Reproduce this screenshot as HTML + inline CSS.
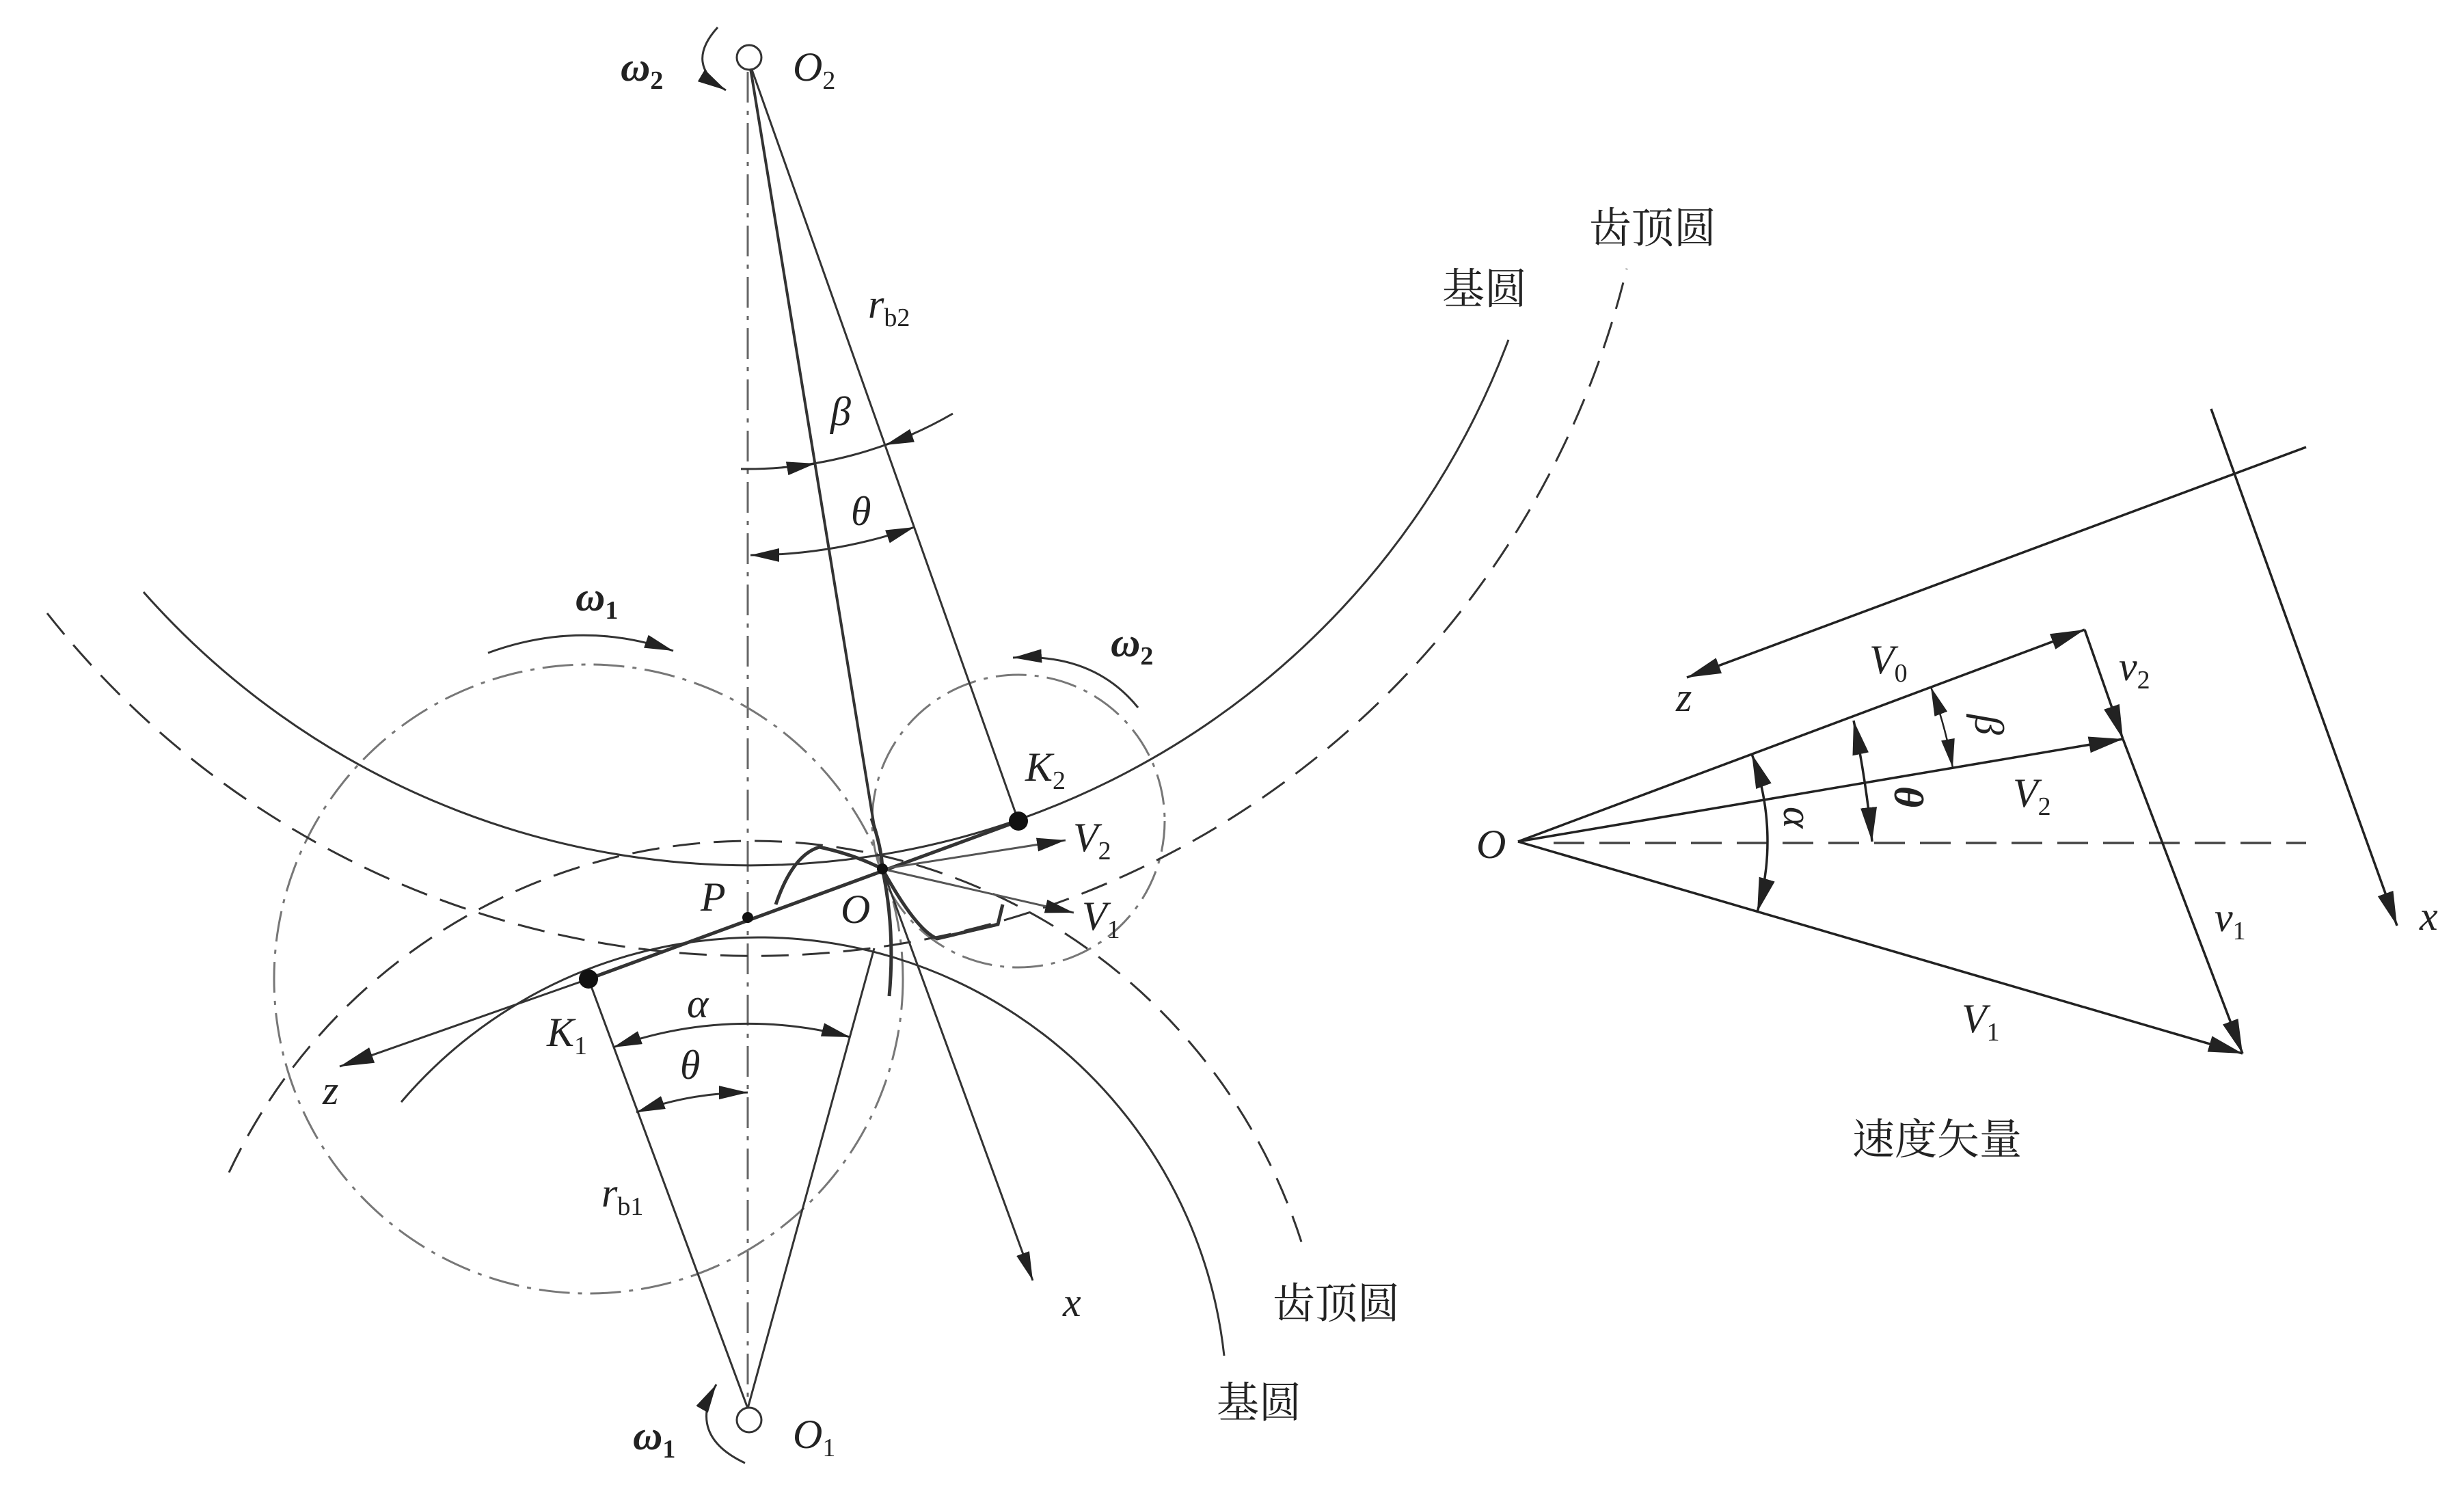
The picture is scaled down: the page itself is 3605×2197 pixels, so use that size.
<!DOCTYPE html>
<html><head><meta charset="utf-8"><style>
html,body{margin:0;padding:0;background:#fff;}
svg{display:block;}
.v{font-family:"Liberation Serif",serif;font-style:italic;font-size:60px;fill:#222;}
.s{font-size:38px;font-style:normal;}
.cn{font-family:"Liberation Serif","Noto Serif CJK SC",serif;font-size:62px;fill:#222;}
</style></head><body>
<svg width="3605" height="2197" viewBox="0 0 3605 2197" xmlns="http://www.w3.org/2000/svg">
<defs>
<marker id="a" markerUnits="userSpaceOnUse" markerWidth="50" markerHeight="30" refX="42" refY="10" orient="auto-start-reverse"><path d="M0,0 L42,10 L0,20 z" fill="#222"/></marker>
<marker id="b" markerUnits="userSpaceOnUse" markerWidth="60" markerHeight="30" refX="50" refY="12" orient="auto-start-reverse"><path d="M0,0 L50,12 L0,24 z" fill="#222"/></marker>
</defs>
<g fill="none" stroke="#333" stroke-width="3">
<line x1="1094" y1="105" x2="1094" y2="2055" stroke="#666" stroke-dasharray="45 12 6 12"/>
<circle cx="861" cy="1432" r="460" stroke="#777" stroke-dasharray="45 12 6 12"/>
<circle cx="1490" cy="1201" r="214" stroke="#777" stroke-dasharray="45 12 6 12"/>
<path d="M210,866 A1185,1185 0 0 0 2207,497"/>
<path d="M69,897 A1315,1315 0 0 0 2380,393" stroke-dasharray="40 20"/>
<path d="M587,1612 A686,686 0 0 1 1791,1983"/>
<path d="M335,1715 A845,845 0 0 1 1907,1826" stroke-dasharray="40 20"/>
<line x1="1099" y1="99" x2="1490" y2="1201"/>
<line x1="1098" y1="100" x2="1280" y2="1215" stroke-width="4"/>
<line x1="1094" y1="2060" x2="861" y2="1432"/>
<line x1="1094" y1="2060" x2="1279" y2="1387"/>
<line x1="861" y1="1432" x2="1490" y2="1201" stroke-width="5"/>
<line x1="861" y1="1432" x2="497" y2="1560" marker-end="url(#b)"/>
<line x1="1291" y1="1271" x2="1559" y2="1229" marker-end="url(#a)" stroke="#555"/>
<line x1="1291" y1="1271" x2="1571" y2="1335" marker-end="url(#a)" stroke="#555"/>
<line x1="1291" y1="1271" x2="1511" y2="1873" marker-end="url(#a)"/>
<path d="M1135,1323 Q1160,1250 1199,1239 Q1250,1250 1291,1271" stroke-width="5"/>
<path d="M1275,1197 Q1290,1240 1291,1271 Q1310,1360 1301,1457" stroke-width="5"/>
<path d="M1291,1271 Q1340,1360 1371,1373 L1460,1352 L1467,1323" stroke-width="5"/>
<path d="M1084,686 A602,602 0 0 0 1394,605"/>
<line x1="1153" y1="685" x2="1193" y2="678" marker-end="url(#a)"/>
<line x1="1335" y1="637" x2="1295" y2="651" marker-end="url(#a)"/>
<path d="M1098,812 A729,729 0 0 0 1338,771" marker-start="url(#a)" marker-end="url(#a)"/>
<path d="M897,1532 A580,580 0 0 1 1244,1517" marker-start="url(#a)" marker-end="url(#a)"/>
<path d="M931,1627 A479,479 0 0 1 1094,1598" marker-start="url(#a)" marker-end="url(#a)"/>
<path d="M1050,40 Q1000,95 1062,132" marker-end="url(#a)"/>
<path d="M1090,2140 Q1005,2100 1048,2025" marker-end="url(#a)"/>
<path d="M714,955 Q850,905 985,952" marker-end="url(#a)"/>
<path d="M1665,1035 Q1600,955 1482,962" marker-end="url(#a)"/>
</g>
<g fill="#fff" stroke="#333" stroke-width="3">
<circle cx="1096" cy="84" r="18"/>
<circle cx="1096" cy="2077" r="18"/>
</g>
<g fill="#111">
<circle cx="1490" cy="1201" r="14"/>
<circle cx="861" cy="1432" r="14"/>
<circle cx="1094" cy="1342" r="8"/>
<circle cx="1291" cy="1271" r="8"/>
</g>
<text class="v" x="908" y="118" font-weight="bold">ω<tspan class="s" dy="12">2</tspan></text>
<text class="v" x="1160" y="118">O<tspan class="s" dy="12">2</tspan></text>
<text class="v" x="926" y="2120" font-weight="bold">ω<tspan class="s" dy="12">1</tspan></text>
<text class="v" x="1160" y="2118">O<tspan class="s" dy="12">1</tspan></text>
<text class="v" x="842" y="893" font-weight="bold">ω<tspan class="s" dy="12">1</tspan></text>
<text class="v" x="1625" y="960" font-weight="bold">ω<tspan class="s" dy="12">2</tspan></text>
<text class="v" x="1270" y="465">r<tspan class="s" dy="12">b2</tspan></text>
<text class="v" x="880" y="1765">r<tspan class="s" dy="12">b1</tspan></text>
<text class="v" x="1215" y="622">β</text>
<text class="v" x="1245" y="768">θ</text>
<text class="v" x="1005" y="1488">α</text>
<text class="v" x="995" y="1578">θ</text>
<text class="v" x="1500" y="1142">K<tspan class="s" dy="12">2</tspan></text>
<text class="v" x="800" y="1530">K<tspan class="s" dy="12">1</tspan></text>
<text class="v" x="1025" y="1332">P</text>
<text class="v" x="1230" y="1350">O</text>
<text class="v" x="1570" y="1245">V<tspan class="s" dy="12">2</tspan></text>
<text class="v" x="1583" y="1360">V<tspan class="s" dy="12">1</tspan></text>
<text class="v" x="472" y="1615" font-size="46">z</text>
<text class="v" x="1555" y="1925" font-size="46">x</text>
<text class="cn" x="2110" y="444">基圆</text>
<text class="cn" x="2325" y="355">齿顶圆</text>
<text class="cn" x="1862" y="1928">齿顶圆</text>
<text class="cn" x="1780" y="2073">基圆</text>
<g fill="none" stroke="#222" stroke-width="3.5">
<line x1="2273" y1="1233" x2="3374" y2="1233" stroke="#444" stroke-dasharray="45 22"/>
<line x1="3374" y1="654" x2="2468" y2="991" marker-end="url(#b)"/>
<line x1="3235" y1="598" x2="3507" y2="1354" marker-end="url(#b)"/>
<line x1="2221" y1="1231" x2="3050" y2="921" marker-end="url(#b)"/>
<line x1="2221" y1="1231" x2="3106" y2="1081" marker-end="url(#b)"/>
<line x1="2221" y1="1231" x2="3281" y2="1541" marker-end="url(#b)"/>
<line x1="3050" y1="921" x2="3106" y2="1081" marker-end="url(#b)"/>
<line x1="3106" y1="1081" x2="3281" y2="1541" marker-end="url(#b)"/>
<path d="M2825,1005 A645,645 0 0 1 2857,1123" stroke-width="2.5" marker-start="url(#a)" marker-end="url(#a)"/>
<path d="M2712,1054 Q2730,1140 2739,1231" marker-start="url(#b)" marker-end="url(#b)"/>
<path d="M2563,1103 A365,365 0 0 1 2571,1334" marker-start="url(#b)" marker-end="url(#b)"/>
</g>
<text class="v" x="2160" y="1255">O</text>
<text class="v" x="2735" y="985">V<tspan class="s" dy="12">0</tspan></text>
<text class="v" x="3100" y="995">v<tspan class="s" dy="12">2</tspan></text>
<text class="v" x="2945" y="1180">V<tspan class="s" dy="12">2</tspan></text>
<text class="v" x="3240" y="1362">v<tspan class="s" dy="12">1</tspan></text>
<text class="v" x="2870" y="1510">V<tspan class="s" dy="12">1</tspan></text>
<text class="v" x="2452" y="1040" font-size="46">z</text>
<text class="v" x="3540" y="1360" font-size="46">x</text>
<text class="v" transform="translate(2890,1045) rotate(90)">β</text>
<text class="v" transform="translate(2772,1150) rotate(90)" font-weight="bold">θ</text>
<text class="v" transform="translate(2610,1180) rotate(90)">α</text>
<text class="cn" x="2710" y="1688">速度矢量</text>
</svg>
</body></html>
